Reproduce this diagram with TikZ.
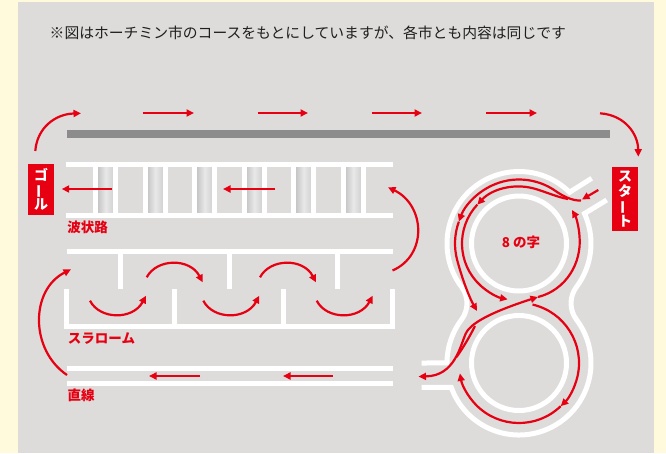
\documentclass[tikz,border=0pt]{standalone}
\usepackage{fontspec}
\usepackage{graphicx}
\usetikzlibrary{arrows.meta,calc}
\newfontfamily\jp{Noto Sans CJK JP}
\definecolor{bgyel}{HTML}{FFFADC}
\definecolor{panel}{HTML}{DDDCDA}
\definecolor{trkred}{HTML}{E60012}
\definecolor{barg}{HTML}{8C8C8C}
\definecolor{shdark}{HTML}{C6C6C6}
\definecolor{shlight}{HTML}{E8E8E8}
\definecolor{shmid}{HTML}{D2D2D2}
\begin{document}
\begin{tikzpicture}[x=1pt,y=1pt,yscale=-1,
  track/.style={draw=white,line width=5pt},
  redline/.style={draw=trkred,line width=2.2pt},
  redarr/.style={redline,-{Triangle[length=7.5pt,width=7pt]}},
  lbl/.style={text=trkred,font=\jp\bfseries\fontsize{13.5}{14}\selectfont,inner sep=0pt},
  vbox/.style={fill=trkred,text=white,font=\jp\bfseries\fontsize{14}{14.5}\selectfont,align=center,inner sep=0pt,minimum width=26pt}]
\useasboundingbox (0,0) rectangle (666,453);
\fill[bgyel] (0,0) rectangle (666,453);
\fill[panel] (17.5,2) rectangle (654,453);

% title
\node[anchor=base west,inner sep=0pt,text=black!88,font=\jp\fontsize{14.8}{16}\selectfont] (title) at (49.5,38.8) {※図はホーチミン市のコースをもとにしていますが、各市とも内容は同じです};

% top bar and arrows
\fill[barg] (67,130) rectangle (610,138);
\foreach \xa/\xb in {143/194,257.5/308,371.5/422,486/537}
  \draw[redarr] (\xa,113) -- (\xb,113);
\draw[redarr] (35.3,151) .. controls (37,128) and (55,114) .. (81,113.3);
\draw[redarr] (600,113.3) .. controls (625,115) and (638,134) .. (638.3,156.7);

% labels boxes
\node[vbox,minimum height=51pt] (goal) at (41,189.5) {ゴ\\\rotatebox[origin=c]{90}{ー}\\ル};
\node[vbox,minimum height=64pt] (start) at (625,199) {ス\\タ\\\rotatebox[origin=c]{90}{ー}\\ト};

% wave road
\foreach \a in {95.5,145,194.5,244,293.5,343} {
  \shade[left color=shdark,right color=shmid,middle color=shlight] (\a+2.5,167) rectangle (\a+17.8,212.5);
  \draw[track] (\a,164.5) -- (\a,215);
  \draw[track] (\a+20.3,164.5) -- (\a+20.3,215);
}
\draw[track] (66,164.5) -- (393,164.5);
\draw[track] (66,215) -- (393,215);
\draw[redarr] (112,189) -- (61.7,189);
\draw[redarr] (275,189) -- (223,189);
\node[lbl] (wave) at (87.5,227.3) {波状路};

% slalom
\draw[track] (66.5,251.5) -- (392.5,251.5);
\foreach \p in {120.5,229.5,337.5}
  \draw[track] (\p,251.5) -- (\p,288.5);
\draw[track] (66.5,289) -- (66.5,326.3) -- (392.5,326.3) -- (392.5,289);
\foreach \p in {174.5,283.5}
  \draw[track] (\p,289) -- (\p,326.3);
\foreach \dx in {0,113.3}
  \draw[redarr] (146.7+\dx,277.3) .. controls (157+\dx,258) and (190+\dx,258) .. (202.7+\dx,282.3);
\foreach \dx in {0,113.3,226.7}
  \draw[redarr] (90+\dx,300.7) .. controls (100+\dx,320) and (133+\dx,320) .. (146+\dx,295.7);
\node[lbl] (slalom) at (101.5,338.5) {スラローム};
\draw[redarr] (392.5,270.5) .. controls (428,255) and (425,205) .. (388,187.3);

% straight
\draw[track] (67,368.5) -- (393,368.5);
\draw[track] (67,383.5) -- (393,383.5);
\draw[redarr] (200,376) -- (149,376);
\draw[redarr] (333,376) -- (283,376);
\node[lbl] (straight) at (81,395.5) {直線};
\draw[redarr] (67,375) .. controls (30,350) and (30,290) .. (71,269.3);

% figure eight
\coordinate (U) at (519,243.5);
\coordinate (L) at (519,363);
\draw[track] (591.7,178.3) -- ($(U)+(-45.4:72)$) arc[start angle=-45.4,end angle=-217,radius=72]
  arc[start angle=-37,end angle=37,radius=27.25] arc[start angle=-143,end angle=-180,radius=72] -- (421.7,363);
\draw[track] (421.7,387.3) -- ($(L)+(160.3:72)$) arc[start angle=160.3,end angle=-37,radius=72]
  arc[start angle=143,end angle=217,radius=27.25] arc[start angle=37,end angle=-24.6,radius=72] -- (606.7,200);
\draw[track] (U) circle[radius=47.5];
\draw[track] (L) circle[radius=47.5];
\node[lbl] (eight) at (521,242) {8 の字};

% routes
\draw[redarr] (598.3,190) -- (582,199.5);
\draw[redarr] (581,200.5) .. controls (572,201) and (562.3,195.7) .. ($(U)+(-55:64)$) arc[start angle=-55,end angle=-160,radius=64];
\draw[redarr] ($(U)+(-160:64)$) arc[start angle=-160,end angle=-195,radius=64] .. controls (461,274.6) and (468,295) .. (477,311);
\draw[redarr] (568,199) .. controls (558,197.5) and (543.5,191) .. ($(U)+(-75:57)$) arc[start angle=-75,end angle=-137,radius=57];
\draw[redarr] ($(U)+(-137:57)$) arc[start angle=-137,end angle=-258.5,radius=57];
\coordinate (M) at (466,333);
\draw[redarr] (M) .. controls (460,346) and (455,376) .. (418.5,376.5);
\draw[redarr] (M) .. controls (470,325) and (485,314) .. (538,297);
\draw[redarr] (538,297) .. controls (566,290) and (582,263) .. (579.5,236) .. controls (578.8,226) and (576,217) .. (572,210);
\draw[redline] (475,326) .. controls (470,336) and (463,348) .. (456.5,357);
\draw[redarr] ($(L)+(-77:60)$) arc[start angle=-77,end angle=46,radius=60];
\draw[redarr] ($(L)+(46:60)$) arc[start angle=46,end angle=170,radius=60];
\end{tikzpicture}
\end{document}
